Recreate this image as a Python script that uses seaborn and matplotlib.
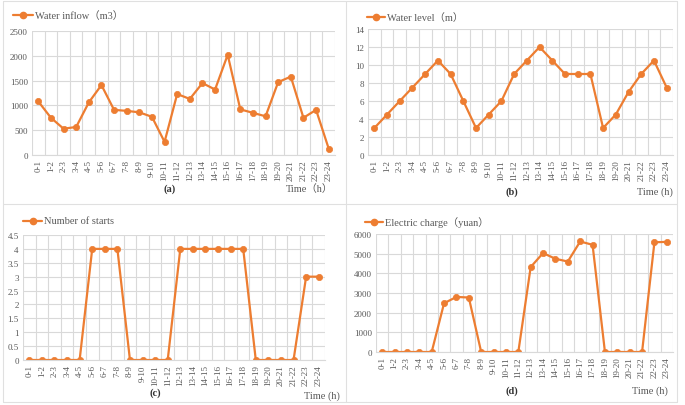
import matplotlib
matplotlib.use("Agg")
import matplotlib.pyplot as plt
from matplotlib.lines import Line2D
import seaborn as sns
import pandas as pd
import numpy as np

periods = [f"{i}-{i+1}" for i in range(24)]
water_inflow = [1080, 750, 530, 565, 1060, 1410, 910, 890, 860, 770, 265, 1230,
                1130, 1450, 1320, 2020, 920, 850, 780, 1470, 1580, 750, 910, 130]
water_level = [3, 4.5, 6, 7.5, 9, 10.5, 9, 6, 3, 4.5, 6, 9,
               10.5, 12, 10.5, 9, 9, 9, 3, 4.5, 7, 9, 10.5, 7.5]
num_starts = [0, 0, 0, 0, 0, 4, 4, 4, 0, 0, 0, 0,
              4, 4, 4, 4, 4, 4, 0, 0, 0, 0, 3, 3]
electric_charge = [0, 0, 0, 0, 0, 2480, 2800, 2770, 0, 0, 0, 0,
                   4320, 5030, 4740, 4600, 5620, 5450, 0, 0, 0, 0, 5580, 5600]

legend_labels = ["Water inflow（m3）", "Water level（m）", "Number of starts", "Electric charge（yuan）"]
panel_tags = ["(a)", "(b)", "(c)", "(d)"]
time_labels = ["Time（h）", "Time (h)", "Time (h)", "Time (h)"]
y_ticks = [np.arange(0, 2501, 500), np.arange(0, 14.1, 2), np.arange(0, 4.51, 0.5), np.arange(0, 6001, 1000)]
y_ticklabels = [[str(int(v)) for v in y_ticks[0]], [str(int(v)) for v in y_ticks[1]],
                ["0", "0.5", "1", "1.5", "2", "2.5", "3", "3.5", "4", "4.5"],
                [str(int(v)) for v in y_ticks[3]]]

sns.set_theme(style="white")
plt.rcParams['font.family'] = ['Liberation Serif', 'Noto Sans CJK SC', 'DejaVu Sans']

W, H = 685, 406
fig = plt.figure(figsize=(W / 100, H / 100), dpi=100)
ORANGE = "#ED7D31"
GRID = "#D9D9D9"
TXT = "#595959"

# panel borders (table-like)
for x in [3, 346, 677]:
    fig.add_artist(Line2D([x / W, x / W], [1 - 2 / H, 1 - 403 / H], color="#E0E0E0", lw=0.8))
for y in [2, 205, 403]:
    fig.add_artist(Line2D([3 / W, 677 / W], [1 - y / H, 1 - y / H], color="#E0E0E0", lw=0.8))

# axes boxes: left, right, top, bottom (pixels)
boxes = [(32, 335, 32, 156), (368, 673, 30, 156), (23, 325, 236, 361), (376, 673, 235, 353)]
series = [water_inflow, water_level, num_starts, electric_charge]
legend_pos = [(13, 33, 16), (367, 385, 18), (23, 42, 222), (365, 383, 223)]
tag_pos = [(170, 189), (512, 192), (155, 393), (512, 391)]
time_pos = [(333, 189), (673, 192), (340, 396), (668, 391)]

for i in range(4):
    l, r, t, b = boxes[i]
    ax = fig.add_axes([l / W, 1 - b / H, (r - l) / W, (b - t) / H])
    df = pd.DataFrame({"x": np.arange(24), "y": series[i]})
    sns.lineplot(data=df, x="x", y="y", ax=ax, color=ORANGE, lw=1.6, marker="o",
                 markersize=4.5, markeredgecolor=ORANGE, markeredgewidth=0.5)
    ax.set_xlim(-0.5, 23.5)
    ax.set_ylim(y_ticks[i][0], y_ticks[i][-1])
    ax.set_yticks(y_ticks[i])
    ax.set_yticklabels(y_ticklabels[i], fontsize=6.5, color=TXT)
    ax.set_xticks(np.arange(24))
    ax.set_xticklabels(periods, rotation=90, fontsize=6.5, color=TXT)
    ax.set_xticks(np.arange(-0.5, 24, 1), minor=True)
    ax.grid(False)
    ax.grid(True, which="minor", axis="x", color=GRID, lw=0.8)
    ax.grid(True, which="major", axis="y", color=GRID, lw=0.8)
    ax.set_axisbelow(True)
    ax.tick_params(axis="both", which="both", length=0, pad=3)
    for s in ["top", "right", "left"]:
        ax.spines[s].set_visible(False)
    ax.spines["bottom"].set_color(GRID)
    ax.spines["bottom"].set_linewidth(0.8)
    ax.set_xlabel("")
    ax.set_ylabel("")
    x0, x1, ly = legend_pos[i]
    fig.add_artist(Line2D([x0 / W, x1 / W], [1 - ly / H, 1 - ly / H], color=ORANGE, lw=1.6))
    fig.add_artist(Line2D([(x0 + x1) / 2 / W], [1 - ly / H], color=ORANGE, marker="o", markersize=4.5, lw=0))
    fig.text((x1 + 2) / W, 1 - ly / H, legend_labels[i], fontsize=7.5, color=TXT, va="center", ha="left")
    tx, ty = tag_pos[i]
    fig.text(tx / W, 1 - ty / H, panel_tags[i], fontsize=7.5, color="#333333", va="center", ha="center",
             fontweight="bold")
    mx, my = time_pos[i]
    fig.text(mx / W, 1 - my / H, time_labels[i], fontsize=7.5, color=TXT, va="center", ha="right")

fig.savefig("out.png", dpi=100, facecolor="white")
